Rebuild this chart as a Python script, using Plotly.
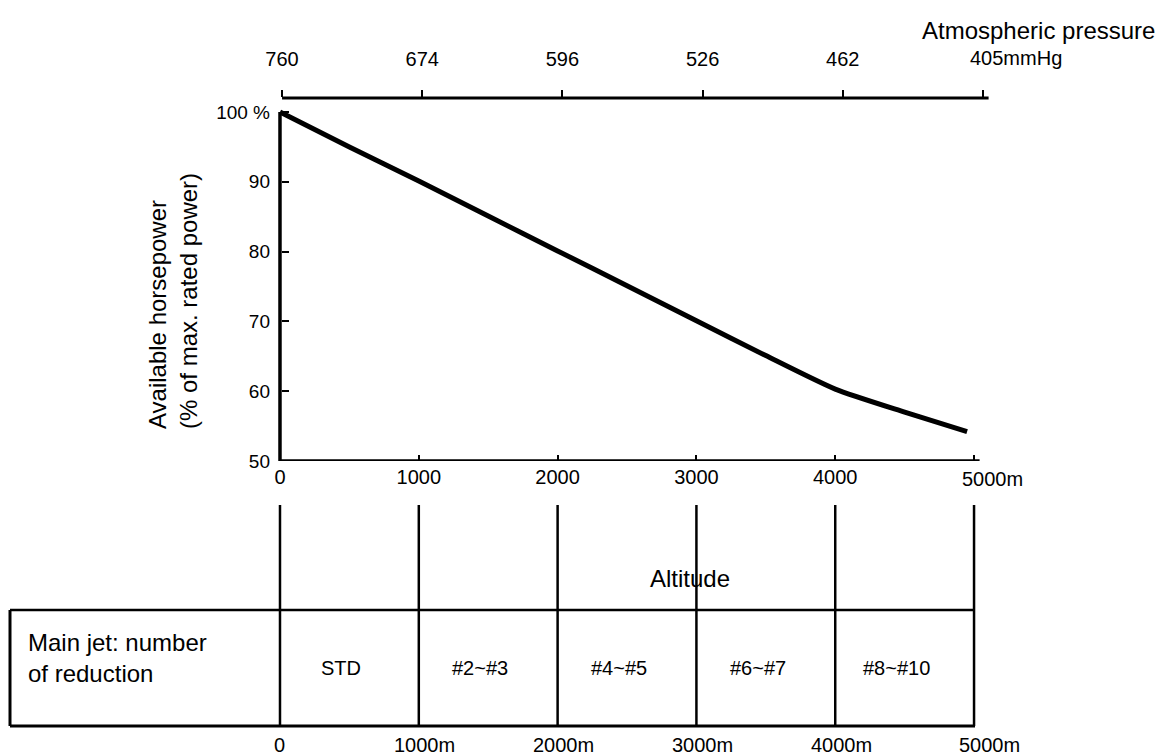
import plotly.graph_objects as go

# ---------------- data ----------------
altitude_m = [0, 500, 1000, 1500, 2000, 2500, 3000, 3500, 4000, 4500, 4950]
horsepower_pct = [100, 95.0, 90.1, 85.1, 80.1, 75.1, 70.1, 65.1, 60.3, 57.0, 54.2]

alt_ticks = [0, 1000, 2000, 3000, 4000, 5000]
alt_tick_text = ["0", "1000", "2000", "3000", "4000", "5000m"]
pressure_text = ["760", "674", "596", "526", "462", "405mmHg"]
hp_ticks = [50, 60, 70, 80, 90, 100]
hp_tick_text = ["50", "60", "70", "80", "90", "100 %"]

jet_ranges = [(0, 1000), (1000, 2000), (2000, 3000), (3000, 4000), (4000, 5000)]
jet_labels = ["STD", "#2~#3", "#4~#5", "#6~#7", "#8~#10"]
table_alt_text = ["0", "1000m", "2000m", "3000m", "4000m", "5000m"]

# ---------------- layout geometry (pixels) ----------------
W, H = 1160, 756
L, R, T, B = 270, 990, 98, 461          # plot area


def px(s):   # pixel x -> paper x
    return (s - L) / (R - L)


def py(s):   # pixel y -> paper y
    return (B - s) / (B - T)


FONT = "Liberation Sans, Arial, sans-serif"
NUM = "Liberation Sans, Arial, sans-serif"
BLACK = "black"

fig = go.Figure()
fig.add_trace(go.Scatter(
    x=altitude_m, y=horsepower_pct, mode="lines",
    line=dict(color=BLACK, width=5, shape="spline", smoothing=0.6),
    hoverinfo="skip", showlegend=False))
# invisible trace to activate top axis
fig.add_trace(go.Scatter(x=[0], y=[50], xaxis="x2", mode="markers",
                         marker=dict(opacity=0), showlegend=False, hoverinfo="skip"))

shapes = []
# left axis line (50..100)
shapes.append(dict(type="line", xref="x", yref="y", x0=0, x1=0, y0=50, y1=100,
                   line=dict(color=BLACK, width=3.5)))
# bottom axis line
shapes.append(dict(type="line", xref="x", yref="y", x0=0, x1=5040, y0=50, y1=50,
                   line=dict(color=BLACK, width=3.5)))
# top axis line
shapes.append(dict(type="line", xref="x2", yref="paper", x0=0, x1=5040, y0=1, y1=1,
                   line=dict(color=BLACK, width=3)))
# vertical guide lines below the chart
for a in alt_ticks:
    shapes.append(dict(type="line", xref="x", yref="paper", x0=a, x1=a,
                       y0=py(505), y1=py(726), line=dict(color=BLACK, width=2.5)))
# table frame
shapes.append(dict(type="line", xref="paper", yref="paper", x0=px(10), x1=px(975),
                   y0=py(610), y1=py(610), line=dict(color=BLACK, width=2.5)))
shapes.append(dict(type="line", xref="paper", yref="paper", x0=px(10), x1=px(975),
                   y0=py(726), y1=py(726), line=dict(color=BLACK, width=3)))
shapes.append(dict(type="line", xref="paper", yref="paper", x0=px(10), x1=px(10),
                   y0=py(610), y1=py(726), line=dict(color=BLACK, width=3)))

ann = []
ann.append(dict(text="Atmospheric pressure", xref="paper", yref="paper",
                x=px(1157), y=py(30), xanchor="right", yanchor="middle",
                showarrow=False, font=dict(family=FONT, size=24, color=BLACK)))
ann.append(dict(text="Altitude", xref="paper", yref="paper",
                x=px(690), y=py(578), xanchor="center", yanchor="middle",
                showarrow=False, font=dict(family=FONT, size=24, color=BLACK)))
ann.append(dict(text="Available horsepower<br>(% of max. rated power)", xref="paper",
                yref="paper", x=px(173), y=py(301), xanchor="center", yanchor="middle",
                textangle=-90, align="left", showarrow=False,
                font=dict(family=FONT, size=24, color=BLACK)))
ann.append(dict(text="Main jet: number<br>of reduction", xref="paper", yref="paper",
                x=px(26), y=py(658), xanchor="left", yanchor="middle", align="left",
                showarrow=False, font=dict(family=FONT, size=24, color=BLACK)))
for (a0, a1), lab in zip(jet_ranges, jet_labels):
    ann.append(dict(text=lab, xref="x", yref="paper", x=(a0 + a1) / 2, y=py(668),
                    xanchor="center", yanchor="middle", xshift=-8, showarrow=False,
                    font=dict(family=NUM, size=20, color=BLACK)))
for a, t in zip(alt_ticks, table_alt_text):
    shift = 0 if t == "0" else (15 if a == alt_ticks[-1] else 6)
    ann.append(dict(text=t, xref="x", yref="paper", x=a, y=py(745),
                    xanchor="center", yanchor="middle", xshift=shift, showarrow=False,
                    font=dict(family=NUM, size=20, color=BLACK)))
# last labels of both altitude axes, left-anchored next to their tick
ann.append(dict(text=alt_tick_text[-1], xref="x", yref="paper", x=alt_ticks[-1],
                y=py(479), xanchor="left", yanchor="middle", xshift=-14,
                showarrow=False, font=dict(family=NUM, size=20, color=BLACK)))
ann.append(dict(text=pressure_text[-1], xref="x", yref="paper", x=alt_ticks[-1],
                y=py(58), xanchor="left", yanchor="middle", xshift=-6,
                showarrow=False, font=dict(family=NUM, size=20, color=BLACK)))

fig.update_layout(
    width=W, height=H,
    margin=dict(l=L, r=W - R, t=T, b=H - B, pad=0),
    paper_bgcolor="white", plot_bgcolor="white",
    shapes=shapes, annotations=ann,
    xaxis=dict(range=[-72, 5115], tickvals=alt_ticks,
               ticktext=alt_tick_text[:-1] + [""],
               ticks="inside", ticklen=6, tickwidth=2, tickcolor=BLACK,
               showline=False, showgrid=False, zeroline=False,
               ticklabelstandoff=2,
               tickfont=dict(family=NUM, size=20, color=BLACK)),
    xaxis2=dict(range=[-86, 5050], overlaying="x", side="top", anchor="y",
                tickvals=alt_ticks, ticktext=pressure_text[:-1] + [""],
                ticks="outside", ticklen=7, tickwidth=2, tickcolor=BLACK,
                showline=False, showgrid=False, zeroline=False,
                ticklabelstandoff=16,
                tickfont=dict(family=NUM, size=20, color=BLACK)),
    yaxis=dict(range=[50, 50 + (B - T) / ((B - 112) / 50)], tickvals=hp_ticks,
               ticktext=hp_tick_text, ticks="inside", ticklen=7, tickwidth=2,
               tickcolor=BLACK, showline=False, showgrid=False, zeroline=False,
               anchor="free", position=px(281), ticklabelstandoff=11,
               tickfont=dict(family=NUM, size=19, color=BLACK)),
)

fig.write_html("out.html",
               config={"displayModeBar": False, "staticPlot": True},
               post_script="document.body.style.margin='0';"
                           "document.body.style.overflow='hidden';")
